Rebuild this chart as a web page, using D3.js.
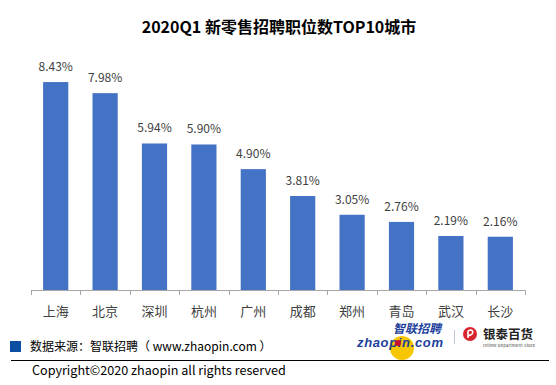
<!DOCTYPE html>
<html>
<head>
<meta charset="utf-8">
<script src="https://cdn.jsdelivr.net/npm/d3@7"></script>
<style>
  body { margin: 0; background: #fff; }
  text { font-family: "Microsoft YaHei", "Noto Sans CJK SC", sans-serif; }
</style>
</head>
<body>
<div id="graph"></div>
<script>
var cities = ["上海", "北京", "深圳", "杭州", "广州", "成都", "郑州", "青岛", "武汉", "长沙"];
var shares = [8.43, 7.98, 5.94, 5.90, 4.90, 3.81, 3.05, 2.76, 2.19, 2.16];
var title = "2020Q1 新零售招聘职位数TOP10城市";
var source = "数据来源：智联招聘（ www.zhaopin.com ）";
var copyright = "Copyright©2020 zhaopin all rights reserved";

var data = cities.map(function(c, i) { return { city: c, value: shares[i] }; });

var width = 556, height = 385;

var svg = d3.select("#graph").append("svg")
    .attr("width", width)
    .attr("height", height);

// title
svg.append("text")
    .attr("x", 279)
    .attr("y", 33)
    .attr("text-anchor", "middle")
    .style("font-size", "16px")
    .style("font-weight", "bold")
    .style("fill", "#000")
    .text(title);

var x = d3.scaleBand()
    .domain(cities)
    .range([31, 525])
    .paddingInner(0.49)
    .paddingOuter(0.245);

var y = d3.scaleLinear()
    .domain([0, 9])
    .range([290, 68]);

// bars
svg.selectAll("rect.bar")
    .data(data)
    .enter()
    .append("rect")
      .attr("class", "bar")
      .attr("x", function(d) { return x(d.city); })
      .attr("y", function(d) { return y(d.value); })
      .attr("width", x.bandwidth())
      .attr("height", function(d) { return y(0) - y(d.value); })
      .style("fill", "#4472C4");

// value labels
svg.selectAll("text.val")
    .data(data)
    .enter()
    .append("text")
      .attr("class", "val")
      .attr("x", function(d) { return x(d.city) + x.bandwidth() / 2; })
      .attr("y", function(d) { return y(d.value) - 11; })
      .attr("text-anchor", "middle")
      .style("font-size", "12px")
      .style("fill", "#404040")
      .text(function(d) { return d.value.toFixed(2) + "%"; });

// x axis with ticks between categories
var step = x.step();
var tickPos = d3.range(cities.length + 1).map(function(i) { return 31 + i * step; });
var axis = svg.append("g");
axis.append("line")
    .attr("x1", 31).attr("x2", 525)
    .attr("y1", 290.5).attr("y2", 290.5)
    .style("stroke", "#a6a6a6");
axis.selectAll("line.tick")
    .data(tickPos)
    .enter()
    .append("line")
      .attr("class", "tick")
      .attr("x1", function(d) { return Math.round(d) + 0.5; })
      .attr("x2", function(d) { return Math.round(d) + 0.5; })
      .attr("y1", 290).attr("y2", 295)
      .style("stroke", "#a6a6a6");
axis.selectAll("text.cat")
    .data(cities)
    .enter()
    .append("text")
      .attr("class", "cat")
      .attr("x", function(d) { return x(d) + x.bandwidth() / 2; })
      .attr("y", 316)
      .attr("text-anchor", "middle")
      .style("font-size", "13px")
      .style("fill", "#404040")
      .text(function(d) { return d; });

// footer: source
svg.append("rect")
    .attr("x", 10).attr("y", 341)
    .attr("width", 11).attr("height", 11)
    .style("fill", "#0b4fa3");
svg.append("text")
    .attr("x", 30).attr("y", 351)
    .style("font-size", "12px")
    .style("fill", "#000")
    .text(source);

// zhaopin logo
var logo = svg.append("g");
logo.append("circle")
    .attr("cx", 402).attr("cy", 348).attr("r", 12)
    .style("fill", "#f6c700");
logo.append("text")
    .attr("x", 393).attr("y", 333)
    .style("font-size", "12px")
    .style("font-weight", "bold")
    .style("font-style", "italic")
    .style("fill", "#1d3f9c")
    .text("智联招聘");
logo.append("text")
    .attr("x", 357).attr("y", 347)
    .style("font-size", "13px")
    .style("font-weight", "bold")
    .style("font-style", "italic")
    .style("font-family", "Arial, 'Liberation Sans', sans-serif")
    .style("fill", "#1d3f9c")
    .attr("textLength", 86)
    .text("zhaopin.com");
logo.append("circle")
    .attr("cx", 398).attr("cy", 343).attr("r", 3)
    .style("fill", "#c8102e");

// separator
svg.append("line")
    .attr("x1", 454.5).attr("x2", 454.5)
    .attr("y1", 330).attr("y2", 344)
    .style("stroke", "#c0c8d8");

// intime logo
var intime = svg.append("g");
intime.append("circle")
    .attr("cx", 470).attr("cy", 334).attr("r", 7)
    .style("fill", "#d8242c");
intime.append("path")
    .attr("d", "M468,338 L468,332 Q468,330 471,330 Q474,331 472,334 Q470,336 468,335")
    .style("fill", "none")
    .style("stroke", "#fff")
    .style("stroke-width", 1.6);
intime.append("text")
    .attr("x", 483).attr("y", 339)
    .style("font-size", "12.5px")
    .style("font-weight", "bold")
    .style("fill", "#222")
    .text("银泰百货");
intime.append("text")
    .attr("x", 483).attr("y", 347)
    .style("font-size", "4px")
    .style("fill", "#333")
    .attr("textLength", 52)
    .text("Intime Department Store");

// divider line
svg.append("line")
    .attr("x1", 11).attr("x2", 549)
    .attr("y1", 360.5).attr("y2", 360.5)
    .style("stroke", "#000")
    .style("stroke-width", 1.2);

svg.append("text")
    .attr("x", 32).attr("y", 375)
    .style("font-size", "12.6px")
    .style("fill", "#000")
    .text(copyright);
</script>
</body>
</html>
